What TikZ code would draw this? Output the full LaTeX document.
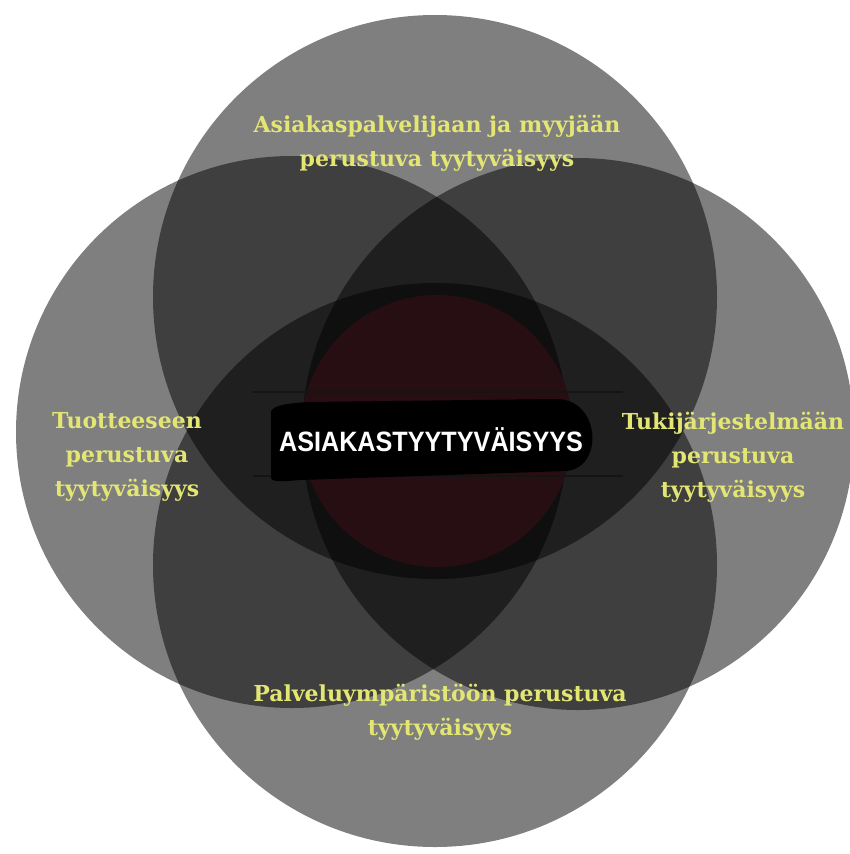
\documentclass[tikz,border=0pt]{standalone}
\usepackage{fontspec}
\usepackage{graphicx}
\setmainfont{DejaVu Serif}
\newfontfamily\coresans{Liberation Sans}
\definecolor{labelyellow}{RGB}{228,230,115}
\definecolor{coremaroon}{RGB}{38,14,18}
\definecolor{barline}{RGB}{20,20,20}
\begin{document}
\begin{tikzpicture}[x=1pt,y=-1pt,
  bigcircle/.style={circle, fill=black, fill opacity=0.5, draw=none, inner sep=0pt, minimum size=#1},
  lbl/.style={text=labelyellow, font=\fontsize{22}{34}\selectfont\bfseries, align=center},
  barstyle/.style={draw=barline, line width=2pt}
]
\useasboundingbox (0,0) rectangle (849,854);
\fill[white] (0,0) rectangle (849,854);
% four overlapping circles
\node[bigcircle=564pt] (ctop) at (435,297) {};
\node[bigcircle=564pt] (cbottom) at (435,565) {};
\node[bigcircle=552pt] (cleft) at (292,432) {};
\node[bigcircle=552pt] (cright) at (578,434) {};
% core circle
\node[circle, fill=coremaroon, inner sep=0pt, minimum size=272pt] (core) at (437,431) {};
% bars
\coordinate (bar1a) at (253,392);
\coordinate (bar1b) at (623,392);
\coordinate (bar2a) at (253,476);
\coordinate (bar2b) at (623,476);
\draw[barstyle] (bar1a) -- (bar1b);
\draw[barstyle] (bar2a) -- (bar2b);
% brush stroke
\fill[black] (271,412) .. controls (272,405) and (290,403) .. (310,402)
  -- (555,399) .. controls (602,398) and (604,470) .. (565,471)
  -- (300,480) .. controls (285,481) and (273,483) .. (271,478) -- cycle;
\node[text=white, font=\coresans\fontsize{28}{30}\selectfont\bfseries] (title) at (431,440) {\scalebox{0.9}[1]{ASIAKASTYYTYVÄISYYS}};
% labels
\node[lbl] (ltop) at (437,143) {Asiakaspalvelijaan ja myyjään\\perustuva tyytyväisyys};
\node[lbl] (lleft) at (127,457) {Tuotteeseen\\perustuva\\tyytyväisyys};
\node[lbl] (lright) at (733,457) {Tukijärjestelmään\\perustuva\\tyytyväisyys};
\node[lbl] (lbottom) at (440,712) {Palveluympäristöön perustuva\\tyytyväisyys};
\end{tikzpicture}
\end{document}
